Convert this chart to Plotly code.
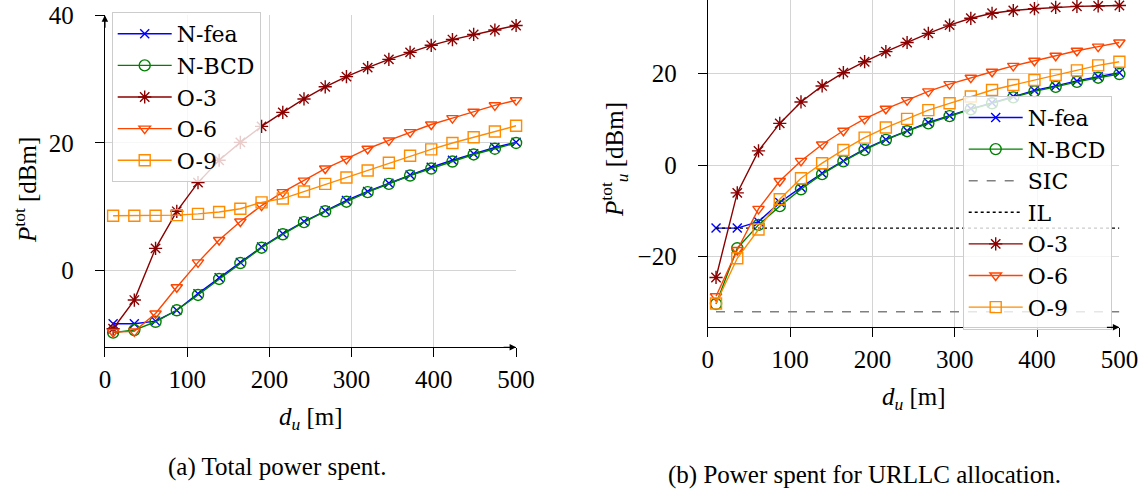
import plotly.graph_objects as go

# ---------------- data ----------------
D_U = [10, 35.8, 61.6, 87.4, 113.2, 138.9, 164.7, 190.5, 216.3, 242.1,
       267.9, 293.7, 319.5, 345.3, 371.1, 396.8, 422.6, 448.4, 474.2, 500]

# (a) total power spent [dBm]
A_NFEA = [-8.3, -8.3, -7.9, -6.2, -3.6, -1.1, 1.3, 3.7, 5.8, 7.7,
          9.4, 11.0, 12.4, 13.7, 15.0, 16.2, 17.3, 18.3, 19.3, 20.1]
A_NBCD = [-9.7, -9.3, -8.0, -6.2, -3.8, -1.3, 1.2, 3.6, 5.7, 7.6,
          9.3, 10.8, 12.3, 13.6, 14.9, 16.0, 17.1, 18.2, 19.1, 20.0]
A_O3 = [-9.1, -4.6, 3.5, 9.3, 13.8, 17.3, 20.1, 22.6, 24.8, 26.9,
        28.8, 30.4, 31.8, 33.1, 34.2, 35.3, 36.2, 37.0, 37.7, 38.4]
A_O6 = [-9.6, -9.5, -6.7, -2.6, 1.3, 4.8, 7.7, 10.2, 12.3, 14.1,
        16.0, 17.5, 19.1, 20.4, 21.7, 22.9, 23.9, 24.9, 25.9, 26.7]
A_O9 = [8.6, 8.6, 8.6, 8.7, 8.9, 9.2, 9.7, 10.7, 11.3, 12.4,
        13.6, 14.6, 15.7, 16.9, 18.0, 19.0, 20.0, 20.9, 21.8, 22.7]

# (b) power spent for URLLC allocation [dBm]
B_NFEA = [-13.8, -13.8, -12.4, -8.2, -4.9, -1.8, 0.9, 3.5, 5.6, 7.5,
          9.3, 10.8, 12.3, 13.6, 15.0, 16.3, 17.3, 18.4, 19.3, 20.2]
B_NBCD = [-30.4, -18.2, -13.1, -9.0, -5.3, -2.0, 0.8, 3.3, 5.5, 7.4,
          9.1, 10.7, 12.2, 13.5, 14.8, 16.1, 17.1, 18.2, 19.1, 19.9]
B_O3 = [-24.6, -6.1, 3.1, 9.1, 13.8, 17.3, 20.2, 22.6, 24.8, 26.8,
        28.8, 30.6, 32.1, 33.2, 33.8, 34.2, 34.5, 34.7, 34.8, 34.9]
B_O6 = [-28.7, -18.6, -9.6, -3.5, 0.9, 4.5, 7.5, 10.1, 12.3, 14.2,
        16.1, 17.7, 19.1, 20.4, 21.7, 22.8, 23.9, 25.0, 25.9, 26.8]
B_O9 = [-30.3, -20.4, -14.1, -7.5, -2.9, 0.4, 3.3, 6.0, 8.2, 10.1,
        12.0, 13.5, 15.0, 16.4, 17.5, 18.6, 19.7, 20.7, 21.8, 22.6]
SIC_X = [10, 500]
SIC_Y = [-32.1, -32.1]
IL_X = [10, 500]
IL_Y = [-13.8, -13.8]

X_TICKS = [0, 100, 200, 300, 400, 500]

# ---------------- style ----------------
FONT = "Liberation Serif, serif"
LFONT = "DejaVu Serif, serif"
FS = 25
LFS = 22
C_NFEA = "#0000ff"
C_NBCD = "#008000"
C_O3 = "#8b0000"
C_O6 = "#ff4500"
C_O9 = "#ff8c00"

W, H = 1146, 490

STYLES = {
    "N-fea": dict(color=C_NFEA, symbol="x-thin-open", size=9),
    "N-BCD": dict(color=C_NBCD, symbol="circle-open", size=11),
    "O-3": dict(color=C_O3, symbol="asterisk-open", size=11),
    "O-6": dict(color=C_O6, symbol="triangle-down-open", size=10),
    "O-9": dict(color=C_O9, symbol="square-open", size=11),
}

fig = go.Figure()


def add_series(name, y, xa, ya, legend):
    s = STYLES[name]
    fig.add_trace(go.Scatter(
        x=D_U, y=y, name=name, mode="lines+markers",
        line=dict(color=s["color"], width=1.4),
        marker=dict(symbol=s["symbol"], size=s["size"], color=s["color"],
                    line=dict(color=s["color"], width=1.4)),
        xaxis=xa, yaxis=ya, legend=legend, cliponaxis=False,
    ))


# left subplot
for nm, ys in [("N-fea", A_NFEA), ("N-BCD", A_NBCD), ("O-3", A_O3),
               ("O-6", A_O6), ("O-9", A_O9)]:
    add_series(nm, ys, "x", "y", "legend")

# right subplot
add_series("N-fea", B_NFEA, "x2", "y2", "legend2")
add_series("N-BCD", B_NBCD, "x2", "y2", "legend2")
fig.add_trace(go.Scatter(x=SIC_X, y=SIC_Y, name="SIC", mode="lines",
                         line=dict(color="#808080", width=1.4, dash="dash"),
                         xaxis="x2", yaxis="y2", legend="legend2"))
fig.add_trace(go.Scatter(x=IL_X, y=IL_Y, name="IL", mode="lines",
                         line=dict(color="#000000", width=1.4, dash="dot"),
                         xaxis="x2", yaxis="y2", legend="legend2"))
add_series("O-3", B_O3, "x2", "y2", "legend2")
add_series("O-6", B_O6, "x2", "y2", "legend2")
add_series("O-9", B_O9, "x2", "y2", "legend2")


def px_x(p):
    return p / W


def px_y(p):
    return 1 - p / H


axis_common = dict(
    showline=True, linecolor="#000000", linewidth=1.3,
    showgrid=True, gridcolor="#d4d4d4", gridwidth=1,
    zeroline=False, ticks="outside", ticklen=9, tickwidth=1,
    tickcolor="#000000", automargin=False,
    tickfont=dict(family=FONT, size=FS, color="#000000"),
)

legend_common = dict(
    xanchor="left", yanchor="top",
    bgcolor="rgba(255,255,255,0.8)", bordercolor="#cccccc",
    borderwidth=1, font=dict(family=LFONT, size=LFS, color="#000000"),
    tracegroupgap=0, itemwidth=54,
)

fig.update_layout(
    width=W, height=H,
    margin=dict(l=0, r=0, t=0, b=0, pad=0, autoexpand=False),
    paper_bgcolor="#ffffff", plot_bgcolor="#ffffff",
    font=dict(family=FONT, size=FS, color="#000000"),
    xaxis=dict(domain=[px_x(104.9), px_x(516.1)], range=[0, 500],
               tickvals=X_TICKS, anchor="y", ticklabelstandoff=1,
               **axis_common),
    yaxis=dict(domain=[px_y(347.3), px_y(15.3)], range=[-12, 40],
               tickvals=[0, 20, 40], anchor="x", ticklabelstandoff=16,
               **axis_common),
    xaxis2=dict(domain=[px_x(707.8), px_x(1119.4)], range=[0, 500],
                tickvals=X_TICKS, anchor="y2", ticklabelstandoff=1,
                **axis_common),
    yaxis2=dict(domain=[px_y(327.3), 1.0], range=[-35.5, 36.1],
                tickvals=[-20, 0, 20], anchor="x2", ticklabelstandoff=16,
                **axis_common),
    legend=dict(x=px_x(111.7), y=px_y(12), **legend_common),
    legend2=dict(x=px_x(962.7), y=px_y(95.7), **legend_common),
    showlegend=True,
)

ann = []
# axis titles
ann.append(dict(text="<i>d</i><sub><i>u</i></sub> [m]", xref="x domain", x=0.5,
                yref="paper", y=px_y(418), showarrow=False,
                xanchor="center", yanchor="middle"))
ann.append(dict(text="<i>d</i><sub><i>u</i></sub> [m]", xref="x2 domain", x=0.5,
                yref="paper", y=px_y(398), showarrow=False,
                xanchor="center", yanchor="middle"))
ann.append(dict(text="<i>P</i><sup>tot</sup> [dBm]", xref="paper", x=px_x(25),
                yref="paper", y=px_y(190), showarrow=False, textangle=-90,
                xanchor="center", yanchor="middle"))
ann.append(dict(text="<i>P</i><sup>tot</sup><sub><i>u</i></sub> [dBm]", xref="paper",
                x=px_x(614), yref="paper", y=px_y(160), showarrow=False,
                textangle=-90, xanchor="center", yanchor="middle"))
# captions
ann.append(dict(text="(a) Total power spent.", xref="paper", x=px_x(277),
                yref="paper", y=px_y(466.7), showarrow=False,
                xanchor="center", yanchor="middle", font=dict(size=25)))
ann.append(dict(text="(b) Power spent for URLLC allocation.", xref="paper",
                x=px_x(864.8), yref="paper", y=px_y(475), showarrow=False,
                xanchor="center", yanchor="middle", font=dict(size=25)))
# axis arrows
for xr, yr in [("x domain", "y domain"), ("x2 domain", "y2 domain")]:
    ann.append(dict(text="", xref=xr, x=1, yref=yr, y=0, axref="pixel",
                    ayref="pixel", ax=-14, ay=0, showarrow=True, arrowhead=2,
                    arrowsize=1, arrowwidth=1.3, arrowcolor="#000000"))
ann.append(dict(text="", xref="x domain", x=0, yref="y domain", y=1,
                axref="pixel", ayref="pixel", ax=0, ay=14, showarrow=True,
                arrowhead=2, arrowsize=1, arrowwidth=1.3, arrowcolor="#000000"))
fig.update_layout(annotations=ann)

fig.write_html(
    "out.html",
    config={"displayModeBar": False},
    post_script="document.body.style.margin='0';document.body.style.overflow='hidden';",
)
